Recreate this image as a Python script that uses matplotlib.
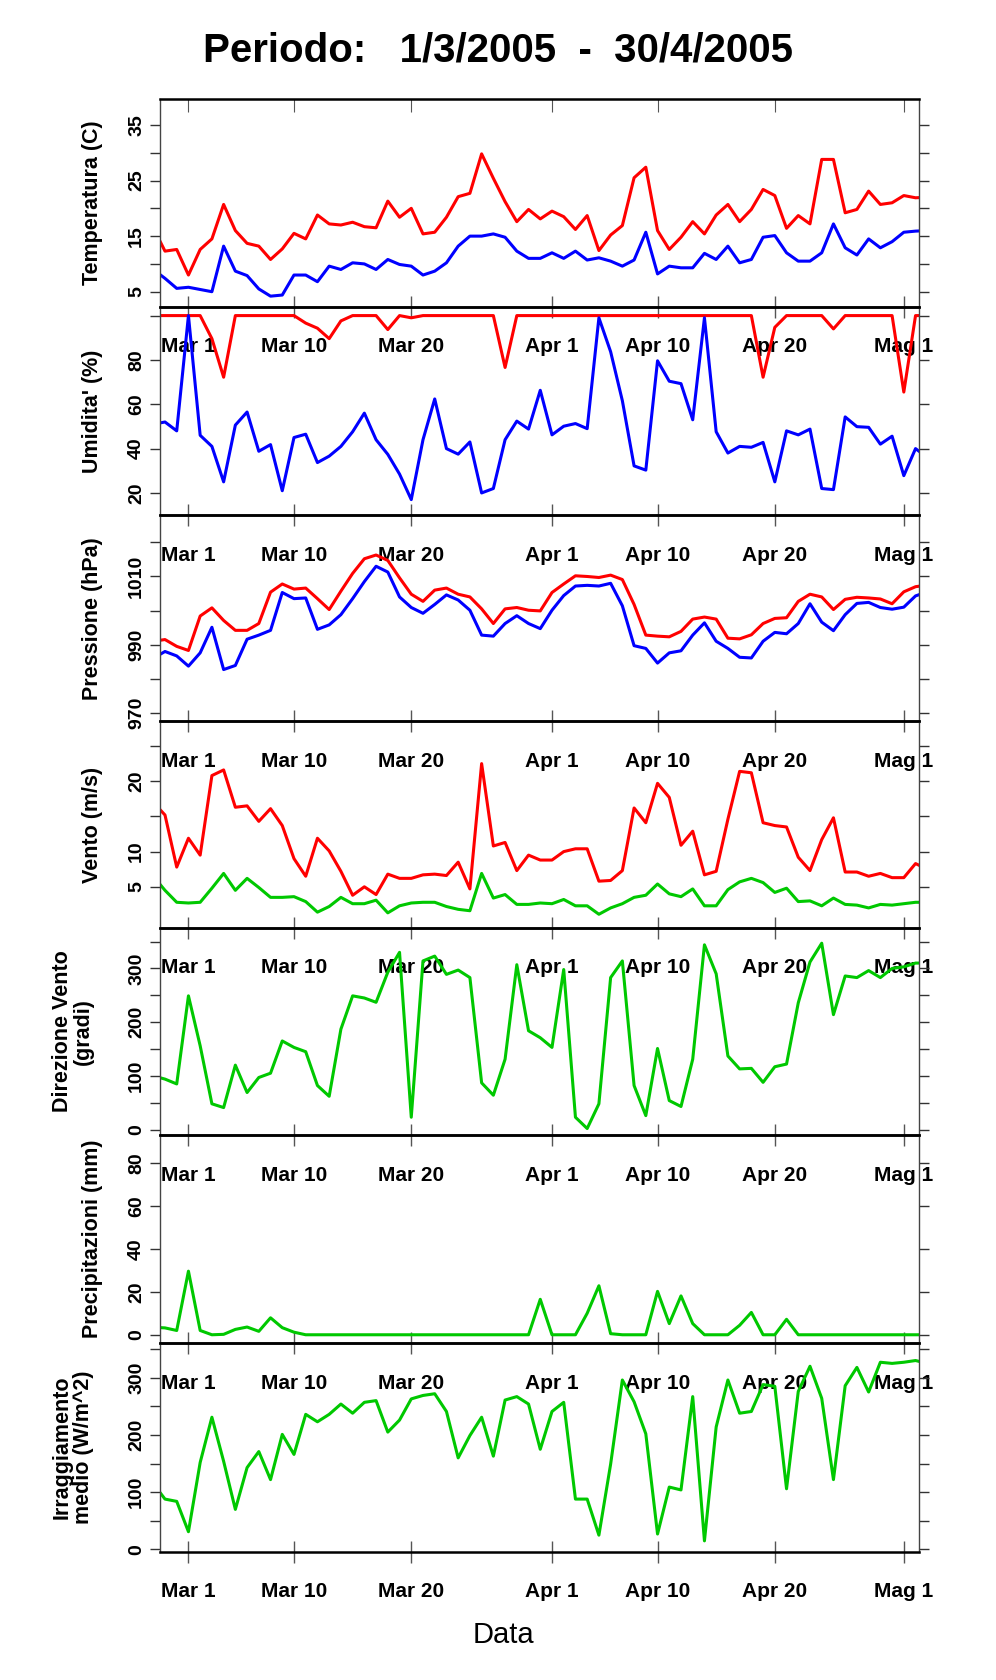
import numpy as np
import matplotlib
matplotlib.use("Agg")
import matplotlib.pyplot as plt

plt.rcParams['font.family'] = ['Liberation Sans', 'DejaVu Sans']

# days relative to 1 March (first value = 26 Feb)
tick_days = [0, 9, 19, 31, 40, 50, 61]
tick_labels = ['Mar 1', 'Mar 10', 'Mar 20', 'Apr 1', 'Apr 10', 'Apr 20', 'Mag 1']

temp_max = [16.5, 12.3, 12.6, 8, 12.6, 14.5, 20.7, 16, 13.7, 13.2, 10.8, 12.7, 15.5, 14.5, 18.8, 17.2, 17, 17.5,
            16.7, 16.5, 21.3, 18.4, 20, 15.4, 15.7, 18.4, 22.1, 22.7, 29.8, 25.4, 21.2, 17.6, 19.8, 18.1, 19.5,
            18.5, 16.2, 18.7, 12.4, 15.2, 16.9, 25.5, 27.4, 16, 12.6, 14.8, 17.6, 15.4, 18.8, 20.7, 17.6, 19.8,
            23.4, 22.3, 16.4, 18.7, 17.2, 28.8, 28.8, 19.2, 19.8, 23.1, 20.7, 21, 22.3, 21.9, 22]
temp_min = [9, 7.4, 5.6, 5.8, 5.4, 5, 13.2, 8.7, 7.9, 5.5, 4.2, 4.4, 8.0, 8.0, 6.8, 9.6, 9, 10.2, 10, 9, 10.8,
            9.9, 9.6, 8, 8.7, 10.2, 13.2, 15, 15, 15.4, 14.8, 12.3, 11, 11, 12, 11, 12.3, 10.7, 11.1, 10.5, 9.6,
            10.7, 15.7, 8.2, 9.6, 9.3, 9.3, 11.9, 10.8, 13.2, 10.2, 10.8, 14.8, 15.1, 12, 10.5, 10.5, 12, 17.2,
            12.9, 11.6, 14.5, 12.9, 14, 15.7, 15.9, 16]
hum_max = [100, 100, 100, 100, 100, 89.6, 72.2, 100, 100, 100, 100, 100, 100, 96.6, 94.3, 89.6, 97.6, 100, 100,
           100, 93.7, 100, 99, 100, 100, 100, 100, 100, 100, 100, 76.6, 100, 100, 100, 100, 100, 100, 100, 100,
           100, 100, 100, 100, 100, 100, 100, 100, 100, 100, 100, 100, 100, 72.2, 94.7, 100, 100, 100, 100, 94,
           100, 100, 100, 100, 100, 65.5, 100, 100]
hum_min = [51, 52, 48, 100, 46, 41, 25, 50.6, 56.5, 38.8, 41.8, 21, 45, 46.5, 33.7, 36.6, 41, 47.6, 56, 44, 37.4,
           28.5, 17, 44, 62.4, 40, 37.5, 43, 20, 22, 44, 52.4, 48.8, 66.3, 46.2, 50.1, 51.3, 49, 99, 83.7, 61.6,
           32.2, 30.3, 79.6, 70.4, 69.3, 53, 99, 47.6, 38, 41, 40.6, 42.8, 25, 48, 46.2, 48.8, 22, 21.5, 54.3,
           49.9, 49.6, 42, 45.6, 27.8, 40, 36]
press_max = [991, 991.5, 989.5, 988.3, 998.4, 1000.8, 997.1, 994.2, 994.2, 996.2, 1005.4, 1007.8, 1006.3, 1006.6,
             1003.5, 1000.3, 1005.7, 1010.9, 1015.2, 1016.3, 1014.7, 1009.6, 1004.8, 1002.7, 1006, 1006.6, 1004.8,
             1004, 1000.5, 996.2, 1000.5, 1000.9, 1000.1, 999.9, 1005.3, 1007.8, 1010.2, 1010, 1009.7, 1010.4,
             1009.1, 1001.8, 992.8, 992.5, 992.3, 993.9, 997.5, 998.1, 997.5, 991.9, 991.7, 992.9, 996.2, 997.7,
             997.9, 1002.7, 1004.8, 1004, 1000.3, 1003.3, 1003.9, 1003.7, 1003.4, 1002, 1005.5, 1007, 1007.5]
press_min = [986, 988, 986.7, 983.7, 987.6, 995.1, 982.7, 983.9, 991.6, 992.8, 994.2, 1005.3, 1003.5, 1003.7,
             994.5, 995.8, 998.8, 1003.5, 1008.5, 1013, 1011.3, 1004, 1000.9, 999.2, 1001.8, 1004.6, 1003.1,
             1000.1, 992.8, 992.5, 996.2, 998.5, 996.2, 994.7, 1000.1, 1004.4, 1007.2, 1007.4, 1007.2, 1008,
             1001.4, 989.7, 988.9, 984.6, 987.6, 988.2, 992.8, 996.4, 991, 988.9, 986.3, 986.1, 991, 993.6, 993.2,
             996.2, 1002, 996.6, 994.1, 998.8, 1002.1, 1002.4, 1000.9, 1000.4, 1001, 1004.3, 1005.5]
wind_max = [17, 15.2, 7.8, 11.9, 9.5, 20.8, 21.6, 16.3, 16.5, 14.3, 16.1, 13.7, 9, 6.5, 11.9, 10.1, 7.2, 3.8, 5,
            3.9, 6.8, 6.2, 6.2, 6.7, 6.8, 6.6, 8.5, 4.7, 22.5, 10.8, 11.3, 7.3, 9.5, 8.8, 8.8, 10, 10.4, 10.4, 5.8,
            5.9, 7.3, 16.2, 14.1, 19.7, 17.7, 10.9, 12.9, 6.7, 7.2, 14.6, 21.4, 21.2, 14.1, 13.7, 13.5, 9.2, 7.3,
            11.7, 14.8, 7.1, 7.1, 6.5, 6.9, 6.3, 6.3, 8.3, 7.5]
wind_avg = [6.5, 4.5, 2.8, 2.7, 2.8, 4.8, 6.9, 4.5, 6.2, 4.9, 3.5, 3.5, 3.6, 2.9, 1.4, 2.2, 3.5, 2.6, 2.6, 3.1, 1.3,
            2.3, 2.7, 2.8, 2.8, 2.2, 1.8, 1.6, 6.9, 3.4, 3.9, 2.5, 2.5, 2.7, 2.6, 3.2, 2.3, 2.3, 1.1, 2, 2.6, 3.5,
            3.8, 5.4, 4, 3.6, 4.7, 2.3, 2.3, 4.6, 5.7, 6.2, 5.6, 4.2, 4.8, 2.9, 3, 2.3, 3.4, 2.5, 2.4, 2, 2.5, 2.4,
            2.6, 2.8, 2.8]
wind_dir = [100, 94, 85, 249, 156, 48, 41, 120, 69, 97, 105, 165, 153, 145, 82, 62, 187, 249, 245, 237, 293, 330,
            23, 314, 323, 289, 297, 283, 87, 64, 131, 307, 184, 171, 153, 298, 23, 2, 48, 283, 314, 82, 26, 151, 54,
            43, 131, 344, 290, 137, 113, 114, 88, 117, 122, 236, 312, 347, 214, 286, 283, 296, 283, 300, 303, 310,
            310]
rain = [3.5, 3.2, 2, 29.6, 2, 0, 0.2, 2.5, 3.6, 1.6, 7.9, 3.3, 1.2] + [0] * 20 + \
       [16.5, 0, 0, 0, 10, 22.8, 0.5, 0, 0, 0, 20.2, 5.2, 18.1, 5.2, 0, 0, 0, 4.4, 10.4, 0, 0, 7.2] + [0] * 12
irr = [115, 88, 84, 31, 152, 231, 154, 70, 143, 171, 122, 201, 166, 236, 223, 236, 254, 238, 257, 260, 205, 226,
       263, 269, 272, 241, 160, 199, 231, 163, 261, 267, 254, 175, 241, 257, 88, 88, 25, 149, 296, 258, 202, 27,
       109, 104, 267, 15, 214, 296, 238, 241, 288, 285, 106, 276, 320, 264, 122, 286, 318, 275, 327, 325, 327,
       330, 325]

RED, BLUE, GREEN = '#ff0000', '#0000ff', '#00c800'

panels = [
    dict(series=[(temp_max, RED), (temp_min, BLUE)], ylabel='Temperatura (C)', ylim=(2.3, 39.6),
         ticks=range(5, 40, 5), labels={5, 15, 25, 35}),
    dict(series=[(hum_max, RED), (hum_min, BLUE)], ylabel="Umidita' (%)", ylim=(10, 104),
         ticks=range(20, 101, 20), labels={20, 40, 60, 80}),
    dict(series=[(press_max, RED), (press_min, BLUE)], ylabel='Pressione (hPa)', ylim=(967.5, 1028),
         ticks=range(970, 1021, 10), labels={970, 990, 1010}),
    dict(series=[(wind_max, RED), (wind_avg, GREEN)], ylabel='Vento (m/s)', ylim=(-0.8, 28.5),
         ticks=range(5, 26, 5), labels={5, 10, 20}),
    dict(series=[(wind_dir, GREEN)], ylabel='Direzione Vento\n(gradi)', ylim=(-10, 376),
         ticks=range(0, 351, 50), labels={0, 100, 200, 300}),
    dict(series=[(rain, GREEN)], ylabel='Precipitazioni (mm)', ylim=(-4, 93),
         ticks=range(0, 81, 20), labels={0, 20, 40, 60, 80}),
    dict(series=[(irr, GREEN)], ylabel='Irraggiamento\nmedio (W/m^2)', ylim=(-4, 360),
         ticks=range(0, 351, 50), labels={0, 100, 200, 300}),
]

W, H = 932.0, 1572.0
bounds = [93, 287, 482, 675, 868, 1062, 1257, 1452]
fig = plt.figure(figsize=(9.96, 16.8), dpi=100)
left = 150 / W
width = (860 - 150) / W

for i, p in enumerate(panels):
    top, bot = bounds[i], bounds[i + 1]
    ax = fig.add_axes([left, 1 - bot / H, width, (bot - top) / H])
    ax.set_facecolor('none')
    for vals, col in p['series']:
        x = np.arange(len(vals)) - 3
        ax.plot(x, vals, color=col, lw=2.2)
    ax.set_xlim(-2.4, 62.3)
    ax.set_ylim(*p['ylim'])
    ax.set_yticks(list(p['ticks']))
    ax.set_yticklabels([str(t) if t in p['labels'] else '' for t in p['ticks']],
                       rotation=90, va='center', fontsize=14, fontweight='bold')
    ax.tick_params(axis='y', direction='out', length=7, width=1, left=True, right=True,
                   labelright=False, pad=4, colors='#333333', labelcolor='black')
    ax.set_xticks(tick_days)
    ax.set_xticklabels(tick_labels, fontsize=15, fontweight='bold')
    ax.tick_params(axis='x', direction='inout', length=16, width=1, pad=14, colors='#555555',
                   labelcolor='black')
    for s in ['top', 'bottom']:
        ax.spines[s].set_linewidth(1.8)
    for s in ['left', 'right']:
        ax.spines[s].set_linewidth(1.0)
        ax.spines[s].set_color('#444444')
    ax.set_ylabel(p['ylabel'], fontsize=15.5, fontweight='bold', linespacing=1.0)
    xl = -0.088 if '\n' in p['ylabel'] else -0.075
    ax.yaxis.set_label_coords(xl, 0.5)
    if i == 0:
        sec = ax.secondary_xaxis('top')
        sec.set_xticks(tick_days)
        sec.set_xticklabels([])
        sec.tick_params(direction='in', length=9, colors='#555555')
        sec.spines['top'].set_visible(False)

fig.text(0.5, 1 - 47 / H, 'Periodo:   1/3/2005  -  30/4/2005', ha='center', va='center',
         fontsize=29, fontweight='bold')
fig.text(0.5 + 0.005, 1 - 1530 / H, 'Data', ha='center', va='center', fontsize=21)

fig.savefig('out.png', dpi=100, facecolor='white')
